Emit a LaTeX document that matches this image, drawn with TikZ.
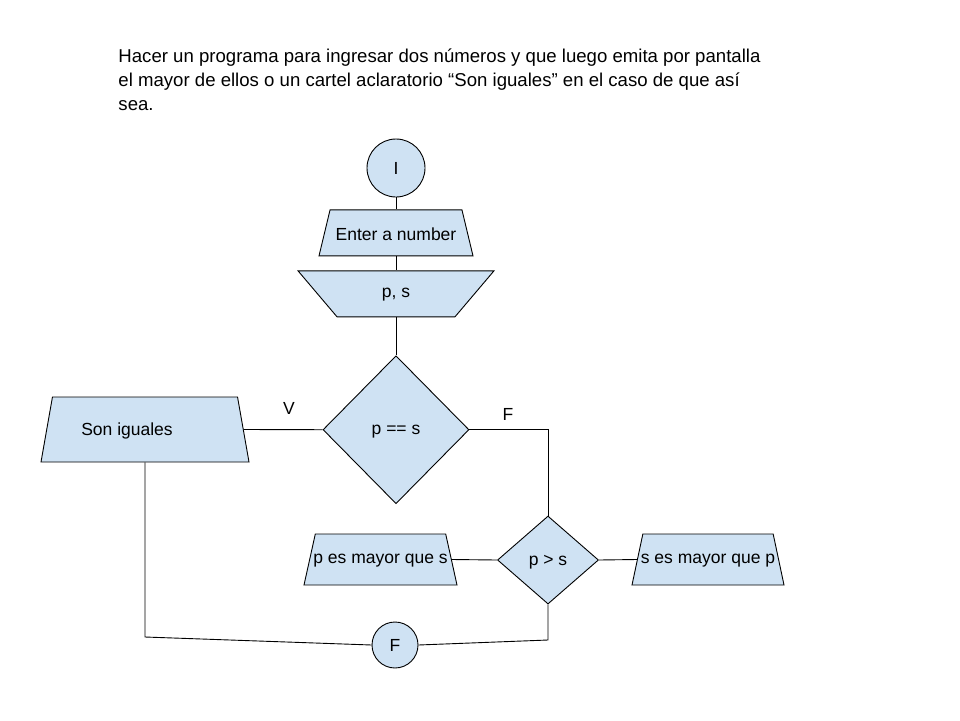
\documentclass[tikz,border=0pt]{standalone}
\usepackage{fontspec}
\setmainfont{Liberation Sans}
\usetikzlibrary{positioning}
\usetikzlibrary{shapes.geometric}
\definecolor{boxblue}{HTML}{CFE2F3}

\begin{document}
\begin{tikzpicture}[x=1pt,y=-1pt,line width=0.9pt,
	font=\fontsize{17.5}{24}\selectfont,
	every node/.style={inner sep=0pt},
	every label/.style={yshift=-1pt},
	term/.style={circle,draw,fill=boxblue,minimum size=#1},
	io/.style 2 args={trapezium,draw,fill=boxblue,trapezium stretches body,text height=#2,text depth=0pt,trapezium left angle=#1,trapezium right angle=#1},
	cond/.style={diamond,draw,fill=boxblue,text depth=0pt}]
		\useasboundingbox (0,0) rectangle (960,720);
		% Enunciado
		\node [anchor=north west,align=left,font=\fontsize{18.6}{24}\selectfont] at (118,48) (enunciado) {Hacer un programa para ingresar dos números y que luego emita por pantalla\\el mayor de ellos o un cartel aclaratorio “Son iguales” en el caso de que así\\sea.};
		
		% Columna central
		\node [term=58pt] at (396,168) (inicio) {I};
		\node [io={76.5}{46pt}, minimum width=154pt, below=12pt of inicio, label=center:{Enter a number}] (ingreso) {};
		\node [io={130.3}{46pt}, minimum width=196pt, below=14pt of ingreso, label=center:{p, s}] (datos) {};
		\node [cond, minimum width=146pt, minimum height=148pt, below=38pt of datos] (igual) {p == s};
		
		% Ramas
		\node [io={80}{65pt}, minimum width=208pt, label={[xshift=-18pt]center:Son iguales}] at (145,429.5) (iguales) {};
		\node [cond, minimum width=101pt, minimum height=88pt] at (548,560) (mayor) {p > s};
		\node [io={77.5}{51pt}, minimum width=153pt, label=center:{p es mayor que s}] at (380.5,559.5) (pmayor) {};
		\node [io={78}{51pt}, minimum width=152pt, label=center:{s es mayor que p}] at (708,559.5) (smayor) {};
		\node [term=46pt] at (395,645) (fin) {F};
		\node at (289,408) (verdadero) {V};
		\node at (508,414) (falso) {F};
		\coordinate (esqizq) at (145,637);
		\coordinate (esqder) at (548,640);
		
		% Conexiones
		\draw (inicio) -- (ingreso); \draw (ingreso) -- (datos); \draw (datos) -- (igual);
		\draw (igual.west) -- (iguales.east); \draw (igual.east) -| (mayor.north);
		\draw (mayor.west) -- (pmayor.east); \draw (mayor.east) -- (smayor.west);
		\draw (iguales.south) -- (esqizq) -- (fin.west); \draw (mayor.south) -- (esqder) -- (fin.east);
\end{tikzpicture}
\end{document}
